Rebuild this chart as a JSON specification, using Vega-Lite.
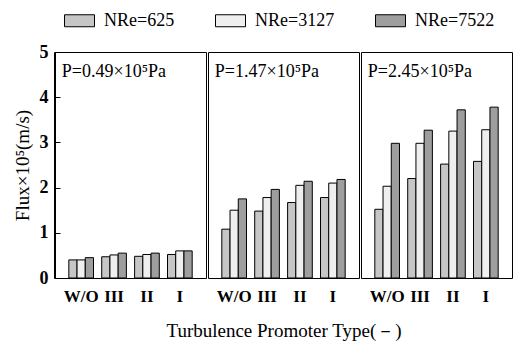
{
  "$schema": "https://vega.github.io/schema/vega-lite/v6.json",
  "background": "white",
  "padding": {"left": 13, "right": 3, "top": 5, "bottom": 3},
  "data": {"values": [
    {"P": "P=0.49×10⁵Pa", "type": "W/O", "re": "NRe=625", "flux": 0.40},
    {"P": "P=0.49×10⁵Pa", "type": "W/O", "re": "NRe=3127", "flux": 0.40},
    {"P": "P=0.49×10⁵Pa", "type": "W/O", "re": "NRe=7522", "flux": 0.45},
    {"P": "P=0.49×10⁵Pa", "type": "III", "re": "NRe=625", "flux": 0.47},
    {"P": "P=0.49×10⁵Pa", "type": "III", "re": "NRe=3127", "flux": 0.51},
    {"P": "P=0.49×10⁵Pa", "type": "III", "re": "NRe=7522", "flux": 0.55},
    {"P": "P=0.49×10⁵Pa", "type": "II", "re": "NRe=625", "flux": 0.48},
    {"P": "P=0.49×10⁵Pa", "type": "II", "re": "NRe=3127", "flux": 0.52},
    {"P": "P=0.49×10⁵Pa", "type": "II", "re": "NRe=7522", "flux": 0.55},
    {"P": "P=0.49×10⁵Pa", "type": "I", "re": "NRe=625", "flux": 0.52},
    {"P": "P=0.49×10⁵Pa", "type": "I", "re": "NRe=3127", "flux": 0.60},
    {"P": "P=0.49×10⁵Pa", "type": "I", "re": "NRe=7522", "flux": 0.60},
    {"P": "P=1.47×10⁵Pa", "type": "W/O", "re": "NRe=625", "flux": 1.08},
    {"P": "P=1.47×10⁵Pa", "type": "W/O", "re": "NRe=3127", "flux": 1.50},
    {"P": "P=1.47×10⁵Pa", "type": "W/O", "re": "NRe=7522", "flux": 1.75},
    {"P": "P=1.47×10⁵Pa", "type": "III", "re": "NRe=625", "flux": 1.48},
    {"P": "P=1.47×10⁵Pa", "type": "III", "re": "NRe=3127", "flux": 1.78},
    {"P": "P=1.47×10⁵Pa", "type": "III", "re": "NRe=7522", "flux": 1.96},
    {"P": "P=1.47×10⁵Pa", "type": "II", "re": "NRe=625", "flux": 1.67},
    {"P": "P=1.47×10⁵Pa", "type": "II", "re": "NRe=3127", "flux": 2.05},
    {"P": "P=1.47×10⁵Pa", "type": "II", "re": "NRe=7522", "flux": 2.14},
    {"P": "P=1.47×10⁵Pa", "type": "I", "re": "NRe=625", "flux": 1.78},
    {"P": "P=1.47×10⁵Pa", "type": "I", "re": "NRe=3127", "flux": 2.10},
    {"P": "P=1.47×10⁵Pa", "type": "I", "re": "NRe=7522", "flux": 2.18},
    {"P": "P=2.45×10⁵Pa", "type": "W/O", "re": "NRe=625", "flux": 1.52},
    {"P": "P=2.45×10⁵Pa", "type": "W/O", "re": "NRe=3127", "flux": 2.03},
    {"P": "P=2.45×10⁵Pa", "type": "W/O", "re": "NRe=7522", "flux": 2.98},
    {"P": "P=2.45×10⁵Pa", "type": "III", "re": "NRe=625", "flux": 2.20},
    {"P": "P=2.45×10⁵Pa", "type": "III", "re": "NRe=3127", "flux": 2.98},
    {"P": "P=2.45×10⁵Pa", "type": "III", "re": "NRe=7522", "flux": 3.27},
    {"P": "P=2.45×10⁵Pa", "type": "II", "re": "NRe=625", "flux": 2.52},
    {"P": "P=2.45×10⁵Pa", "type": "II", "re": "NRe=3127", "flux": 3.25},
    {"P": "P=2.45×10⁵Pa", "type": "II", "re": "NRe=7522", "flux": 3.72},
    {"P": "P=2.45×10⁵Pa", "type": "I", "re": "NRe=625", "flux": 2.58},
    {"P": "P=2.45×10⁵Pa", "type": "I", "re": "NRe=3127", "flux": 3.28},
    {"P": "P=2.45×10⁵Pa", "type": "I", "re": "NRe=7522", "flux": 3.78}
  ]},
  "facet": {
    "column": {
      "field": "P", "type": "nominal",
      "sort": ["P=0.49×10⁵Pa", "P=1.47×10⁵Pa", "P=2.45×10⁵Pa"],
      "title": "Turbulence Promoter Type(－)",
      "header": {
        "titleOrient": "bottom", "titleFontSize": 19, "titleFontWeight": "normal", "titlePadding": 8, "titleColor": "black",
        "labels": false
      }
    }
  },
  "spacing": 0,
  "spec": {
    "width": 151,
    "height": 226,
    "layer": [
      {
        "mark": {"type": "bar", "stroke": "black", "strokeWidth": 1},
        "encoding": {
          "x": {"field": "type", "type": "nominal", "sort": ["W/O", "III", "II", "I"],
            "scale": {"paddingInner": 0.25, "paddingOuter": 0.42},
            "axis": {"title": null, "labelAngle": 0, "ticks": false, "domain": false, "labelFontSize": 17, "labelFontWeight": "bold", "labelPadding": 9, "labelColor": "black"}},
          "xOffset": {"field": "re", "type": "nominal", "sort": ["NRe=625", "NRe=3127", "NRe=7522"]},
          "y": {"field": "flux", "type": "quantitative", "scale": {"domain": [0, 5]},
            "axis": {"title": "Flux×10⁵(m/s)", "values": [0, 1, 2, 3, 4, 5], "grid": false, "labelFontSize": 18, "labelFontWeight": "bold", "titleFontSize": 19, "titleFontWeight": "normal", "labelColor": "black", "titleColor": "black", "domainColor": "black", "tickColor": "black", "tickSize": -6, "labelPadding": 12, "titlePadding": 7}},
          "fill": {"field": "re", "type": "nominal", "sort": ["NRe=625", "NRe=3127", "NRe=7522"],
            "scale": {"domain": ["NRe=625", "NRe=3127", "NRe=7522"], "range": ["#c6c6c6", "#efefef", "#9e9e9e"]},
            "legend": {"title": null, "orient": "none", "legendX": 9, "legendY": -47, "direction": "horizontal", "labelFontSize": 18, "labelColor": "black", "labelOffset": 9, "symbolType": "M-1,-0.4H1V0.4H-1Z", "symbolSize": 900, "symbolStrokeColor": "black", "symbolStrokeWidth": 1, "columnPadding": 38, "symbolOpacity": 1}}
        }
      },
      {
        "transform": [{"filter": "datum.type == 'W/O' && datum.re == 'NRe=625'"}],
        "mark": {"type": "text", "align": "left", "baseline": "middle", "fontSize": 18, "dx": -7, "color": "black"},
        "encoding": {
          "x": {"field": "type", "type": "nominal", "sort": ["W/O", "III", "II", "I"], "bandPosition": 0},
          "y": {"datum": 4.55},
          "text": {"field": "P"}
        }
      }
    ]
  },
  "config": {
    "font": "Liberation Serif",
    "view": {"stroke": "black", "strokeWidth": 1}
  }
}
